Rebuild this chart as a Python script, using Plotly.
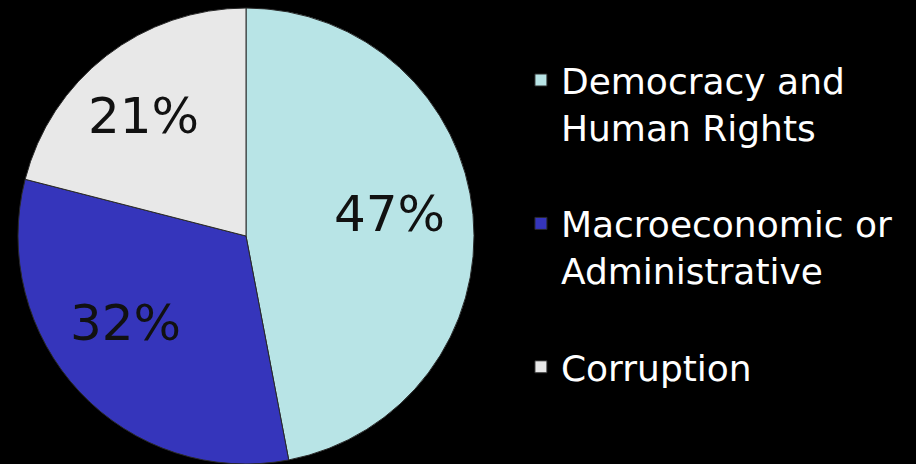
import math
import plotly.graph_objects as go

labels = ["Democracy and<br>Human Rights<br> ", "Macroeconomic or<br>Administrative<br> ", "Corruption"]
values = [47, 32, 21]
colors = ["#b8e4e6", "#3535bb", "#e8e8e8"]

W, H = 916, 464
cx_px, cy_px, R = 246, 236, 228

fig = go.Figure()
fig.add_trace(go.Pie(
    labels=labels, values=values, sort=False, direction="clockwise", rotation=0,
    marker=dict(colors=colors, line=dict(color="#2a2a2a", width=1)),
    textinfo="none", hoverinfo="label+percent",
    domain=dict(x=[(cx_px - R) / W, (cx_px + R) / W], y=[1 - (cy_px + R) / H, 1 - (cy_px - R) / H]),
))

# percentage labels placed on an ellipse around the pie centre, at each slice's mid-angle
lab_cx, lab_cy, lab_rx, lab_ry = 237, 227, 153, 140
total = sum(values)
cum = 0
for v in values:
    mid = (cum + v / 2) / total * 2 * math.pi
    cum += v
    x = lab_cx + lab_rx * math.sin(mid)
    y = lab_cy - lab_ry * math.cos(mid)
    fig.add_annotation(x=x / W, y=1 - y / H, xref="paper", yref="paper",
                       xanchor="center", yanchor="middle",
                       text=f"{round(v / total * 100)}%", showarrow=False,
                       font=dict(family="DejaVu Sans", size=50, color="#111111"))

fig.update_layout(
    width=W, height=H, margin=dict(l=0, r=0, t=0, b=0),
    paper_bgcolor="black", plot_bgcolor="black",
    showlegend=True,
    legend=dict(x=0.5687, y=0.892, xanchor="left", yanchor="top", valign="top",
                font=dict(family="DejaVu Sans", size=36, color="white"),
                bgcolor="rgba(0,0,0,0)"),
)
fig.write_html("out.html")
